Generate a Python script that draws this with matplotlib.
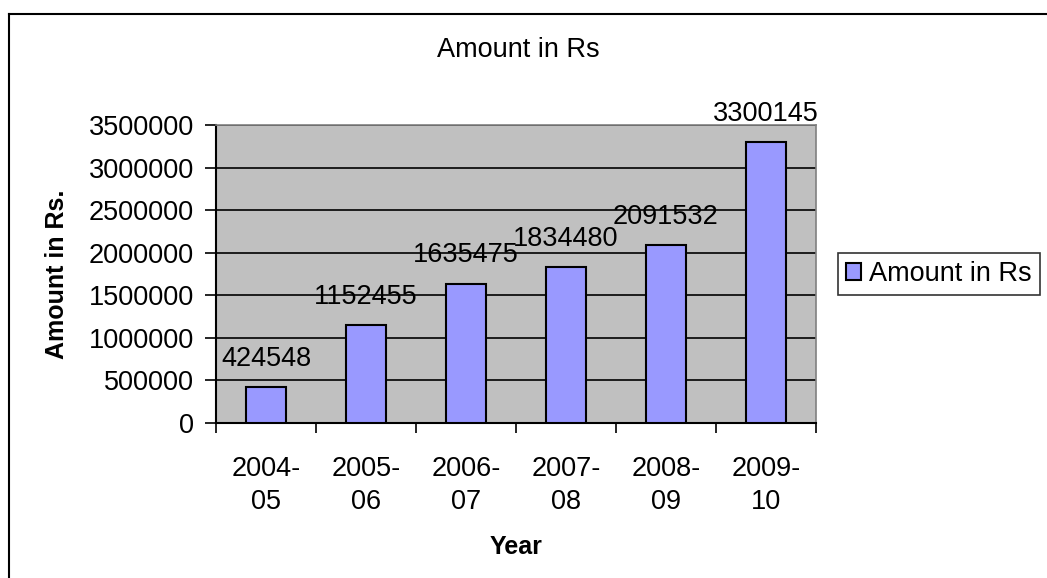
import matplotlib.pyplot as plt
import matplotlib.lines as mlines
import numpy as np

plt.rcParams['font.family'] = ['Liberation Sans', 'DejaVu Sans']

# data
years = ["2004-\n05", "2005-\n06", "2006-\n07", "2007-\n08", "2008-\n09", "2009-\n10"]
amounts = [424548, 1152455, 1635475, 1834480, 2091532, 3300145]
series_name = "Amount in Rs"

W, H = 1047, 578
fig = plt.figure(figsize=(W / 100, H / 100), dpi=100)
ax = fig.add_axes([216 / W, 1 - 423 / H, 600 / W, 298 / H])

fs = 19.5
x = np.arange(len(years))
ax.set_facecolor('#c0c0c0')
ax.set_axisbelow(True)
ax.yaxis.grid(True, color='black', linewidth=1.2)
bars = ax.bar(x, amounts, width=0.4, color='#9999ff', edgecolor='black',
              linewidth=1.5, label=series_name, zorder=3)

for xi, v in zip(x, amounts):
    ax.annotate(str(v), (xi, v), xytext=(0, 11), textcoords='offset points',
                ha='center', va='bottom', fontsize=fs)

ax.set_xlim(-0.5, len(years) - 0.5)
ax.set_ylim(0, 3500000)
ax.set_yticks(np.arange(0, 3500001, 500000))
ax.set_yticklabels([str(v) for v in range(0, 3500001, 500000)], fontsize=fs)
ax.set_xticks(x)
ax.set_xticklabels(years, fontsize=fs, linespacing=1.35)
ax.set_xticks(np.arange(-0.5, len(years)), minor=True)
ax.tick_params(axis='x', which='major', length=0, pad=24)
ax.tick_params(axis='x', which='minor', length=7, width=1.2, direction='out')
ax.tick_params(axis='y', length=8, width=1.2, direction='out', pad=8)

for s in ['left', 'bottom']:
    ax.spines[s].set_color('black')
    ax.spines[s].set_linewidth(1.5)
for s in ['top', 'right']:
    ax.spines[s].set_color('#808080')
    ax.spines[s].set_linewidth(1.2)

ax.set_ylabel("Amount in Rs.", fontsize=18, fontweight='bold', labelpad=14)
ax.set_xlabel("Year", fontsize=18, fontweight='bold', labelpad=14)
fig.text(518 / W, 1 - 50 / H, "Amount in Rs", ha='center', va='center', fontsize=fs)

leg = fig.legend(handles=[bars], loc='upper left',
                 bbox_to_anchor=(838 / W, 1 - 253 / H), borderaxespad=0,
                 fontsize=fs, fancybox=False, handlelength=0.55, handleheight=0.55,
                 handletextpad=0.3, borderpad=0.3)
leg.get_frame().set_edgecolor('black')
leg.get_frame().set_linewidth(1.2)

# outer chart border (left and top visible)
fig.add_artist(mlines.Line2D([8.5 / W, 8.5 / W], [0, 1 - 14 / H], color='black', linewidth=1.5,
                             transform=fig.transFigure))
fig.add_artist(mlines.Line2D([8.5 / W, 1], [1 - 14 / H, 1 - 14 / H], color='black', linewidth=1.5,
                             transform=fig.transFigure))

fig.savefig('out.png', dpi=100)
